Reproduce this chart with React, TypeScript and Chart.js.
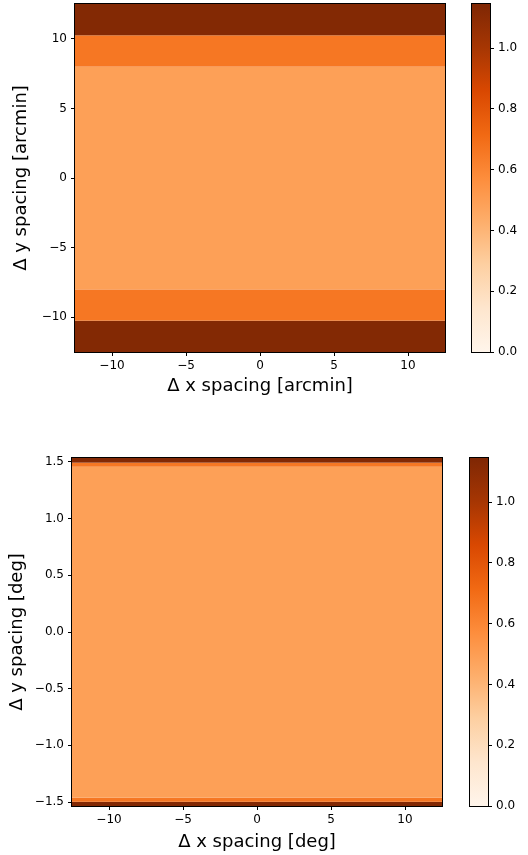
import React, { useEffect, useRef } from 'react';
import { Chart, registerables } from 'chart.js';

Chart.register(...registerables);

// Oranges colormap anchors
const ORANGES = ['#fff5eb', '#fee6ce', '#fdd0a2', '#fdae6b', '#fd8d3c', '#f16913', '#d94801', '#a63603', '#7f2704'];

const X_RANGE = [-12.5, 12.5];
const X_TICKS = [-10, -5, 0, 5, 10];

const ARCMIN_Y_RANGE = [-12.5, 12.5];
const ARCMIN_Y_TICKS = [-10, -5, 0, 5, 10];
const ARCMIN_BAND_EDGES = [-12.5, -10.25, -8.0, 8.0, 10.25, 12.5];
const ARCMIN_BAND_VALUES = [1.13, 0.66, 0.49, 0.66, 1.13];

const DEG_Y_RANGE = [-1.535, 1.535];
const DEG_Y_TICKS = [-1.5, -1.0, -0.5, 0.0, 0.5, 1.0, 1.5];
const DEG_BAND_EDGES = [-1.535, -1.498, -1.462, 1.458, 1.494, 1.535];
const DEG_BAND_VALUES = [1.13, 0.66, 0.49, 0.66, 1.13];

const CBAR_RANGE = [0, 1.145];
const CBAR_TICKS = [0.0, 0.2, 0.4, 0.6, 0.8, 1.0];

const FONT = 'DejaVu Sans';

function hexToRgb(h: string) {
  const n = parseInt(h.slice(1), 16);
  return [(n >> 16) & 255, (n >> 8) & 255, n & 255];
}
const ANCHORS = ORANGES.map(hexToRgb);
function cmap(t: number) {
  const c = Math.min(1, Math.max(0, t)) * (ANCHORS.length - 1);
  const i = Math.min(ANCHORS.length - 2, Math.floor(c));
  const f = c - i;
  const a = ANCHORS[i], b = ANCHORS[i + 1];
  const r = a.map((v, k) => Math.round(v + (b[k] - v) * f));
  return `rgb(${r[0]},${r[1]},${r[2]})`;
}
function norm(v: number) {
  return (v - CBAR_RANGE[0]) / (CBAR_RANGE[1] - CBAR_RANGE[0]);
}
function fmtInt(v: number) {
  return v < 0 ? '\u2212' + Math.abs(v) : String(v);
}
function fmt1(v: number) {
  return v < 0 ? '\u2212' + Math.abs(v).toFixed(1) : v.toFixed(1);
}

const framePlugin = {
  id: 'frame',
  afterDraw(chart: any) {
    const { ctx, chartArea: a } = chart;
    ctx.save();
    ctx.strokeStyle = '#000';
    ctx.lineWidth = 1;
    ctx.strokeRect(a.left - 0.5, a.top - 0.5, a.right - a.left + 1, a.bottom - a.top + 1);
    ctx.restore();
  },
};

function tickGrid() {
  return { display: true, drawOnChartArea: false, drawTicks: true, tickLength: 4, color: '#000', lineWidth: 1 };
}

function fixAxis(size: number, horizontal: boolean) {
  return (scale: any) => {
    if (horizontal) scale.height = size;
    else scale.width = size;
    scale.paddingTop = 0;
    scale.paddingBottom = 0;
    scale.paddingLeft = 0;
    scale.paddingRight = 0;
  };
}

function makeMain(
  canvas: HTMLCanvasElement,
  p: {
    yRange: number[]; yTicks: number[]; edges: number[]; values: number[];
    yFmt: (v: number) => string; xTitle: string; yTitle: string;
    padTop: number; padRight: number; yAxisW: number; xAxisH: number;
    xTitlePad: number; yTitlePad: number;
  }
) {
  const bandPlugin = {
    id: 'bands',
    beforeDatasetsDraw(chart: any) {
      const { ctx, scales } = chart;
      const xs = scales.x, ys = scales.y;
      ctx.save();
      for (let i = 0; i < p.values.length; i++) {
        const x0 = xs.getPixelForValue(X_RANGE[0]);
        const x1 = xs.getPixelForValue(X_RANGE[1]);
        const y0 = ys.getPixelForValue(p.edges[i]);
        const y1 = ys.getPixelForValue(p.edges[i + 1]);
        ctx.fillStyle = cmap(norm(p.values[i]));
        ctx.fillRect(x0, Math.min(y0, y1), x1 - x0, Math.abs(y1 - y0));
      }
      ctx.restore();
    },
  };
  return new Chart(canvas, {
    type: 'scatter',
    data: { datasets: [] },
    options: {
      responsive: false,
      animation: false,
      events: [],
      layout: { padding: { top: p.padTop, right: p.padRight, left: 0, bottom: 0 } },
      plugins: { legend: { display: false }, tooltip: { enabled: false } },
      scales: {
        x: {
          type: 'linear',
          min: X_RANGE[0],
          max: X_RANGE[1],
          afterBuildTicks: (s: any) => { s.ticks = X_TICKS.map((v) => ({ value: v })); },
          afterFit: fixAxis(p.xAxisH, true),
          grid: tickGrid(),
          border: { display: false },
          ticks: { callback: (v: any) => fmtInt(Number(v)), color: '#000', font: { family: FONT, size: 12 }, padding: 3, maxRotation: 0 },
          title: { display: true, text: p.xTitle, color: '#000', font: { family: FONT, size: 18, lineHeight: 1.2 }, padding: { top: 0, bottom: p.xTitlePad } },
        },
        y: {
          type: 'linear',
          min: p.yRange[0],
          max: p.yRange[1],
          afterBuildTicks: (s: any) => { s.ticks = p.yTicks.map((v) => ({ value: v })); },
          afterFit: fixAxis(p.yAxisW, false),
          grid: tickGrid(),
          border: { display: false },
          ticks: { callback: (v: any) => p.yFmt(Number(v)), color: '#000', font: { family: FONT, size: 12 }, padding: 4 },
          title: { display: true, text: p.yTitle, color: '#000', font: { family: FONT, size: 18, lineHeight: 1.2 }, padding: { top: p.yTitlePad, bottom: 0 } },
        },
      },
    } as any,
    plugins: [bandPlugin, framePlugin],
  });
}

function makeBar(canvas: HTMLCanvasElement, p: { padLeft: number; padTop: number; padBottom: number; axisW: number }) {
  const gradPlugin = {
    id: 'grad',
    beforeDatasetsDraw(chart: any) {
      const { ctx, chartArea: a, scales } = chart;
      const ys = scales.y;
      const yb = ys.getPixelForValue(CBAR_RANGE[0]);
      const yt = ys.getPixelForValue(CBAR_RANGE[1]);
      const g = ctx.createLinearGradient(0, yb, 0, yt);
      ORANGES.forEach((c, i) => g.addColorStop(i / (ORANGES.length - 1), c));
      ctx.save();
      ctx.fillStyle = g;
      ctx.fillRect(a.left, yt, a.right - a.left, yb - yt);
      ctx.restore();
    },
  };
  return new Chart(canvas, {
    type: 'scatter',
    data: { datasets: [] },
    options: {
      responsive: false,
      animation: false,
      events: [],
      layout: { padding: { top: p.padTop, left: p.padLeft, right: 0, bottom: p.padBottom } },
      plugins: { legend: { display: false }, tooltip: { enabled: false } },
      scales: {
        x: { type: 'linear', display: false, min: 0, max: 1 },
        y: {
          type: 'linear',
          position: 'right',
          min: CBAR_RANGE[0],
          max: CBAR_RANGE[1],
          afterBuildTicks: (s: any) => { s.ticks = CBAR_TICKS.map((v) => ({ value: v })); },
          afterFit: fixAxis(p.axisW, false),
          grid: tickGrid(),
          border: { display: false },
          ticks: { callback: (v: any) => fmt1(Number(v)), color: '#000', font: { family: FONT, size: 12 }, padding: 4 },
        },
      },
    } as any,
    plugins: [gradPlugin, framePlugin],
  });
}

export default function App() {
  const m1 = useRef<HTMLCanvasElement>(null);
  const c1 = useRef<HTMLCanvasElement>(null);
  const m2 = useRef<HTMLCanvasElement>(null);
  const c2 = useRef<HTMLCanvasElement>(null);

  useEffect(() => {
    const charts: Chart[] = [];
    charts.push(
      makeMain(m1.current!, {
        yRange: ARCMIN_Y_RANGE, yTicks: ARCMIN_Y_TICKS, edges: ARCMIN_BAND_EDGES, values: ARCMIN_BAND_VALUES,
        yFmt: fmtInt, xTitle: '\u0394 x spacing [arcmin]', yTitle: '\u0394 y spacing [arcmin]',
        padTop: 4, padRight: 15, yAxisW: 75, xAxisH: 48, xTitlePad: 3, yTitlePad: 11,
      })
    );
    charts.push(makeBar(c1.current!, { padLeft: 12, padTop: 4, padBottom: 48, axisW: 38 }));
    charts.push(
      makeMain(m2.current!, {
        yRange: DEG_Y_RANGE, yTicks: DEG_Y_TICKS, edges: DEG_BAND_EDGES, values: DEG_BAND_VALUES,
        yFmt: fmt1, xTitle: '\u0394 x spacing [deg]', yTitle: '\u0394 y spacing [deg]',
        padTop: 18, padRight: 18, yAxisW: 72, xAxisH: 49, xTitlePad: 2, yTitlePad: 7,
      })
    );
    charts.push(makeBar(c2.current!, { padLeft: 10, padTop: 18, padBottom: 49, axisW: 40 }));
    return () => charts.forEach((c) => c.destroy());
  }, []);

  const abs = (l: number, t: number): React.CSSProperties => ({ position: 'absolute', left: l, top: t, display: 'block' });

  return (
    <div style={{ position: 'absolute', left: 0, top: 0, width: 528, height: 855, background: '#fff' }}>
      <canvas ref={m1} width={460} height={400} style={abs(0, 0)} />
      <canvas ref={c1} width={68} height={400} style={abs(460, 0)} />
      <canvas ref={m2} width={460} height={415} style={abs(0, 440)} />
      <canvas ref={c2} width={68} height={415} style={abs(460, 440)} />
    </div>
  );
}
